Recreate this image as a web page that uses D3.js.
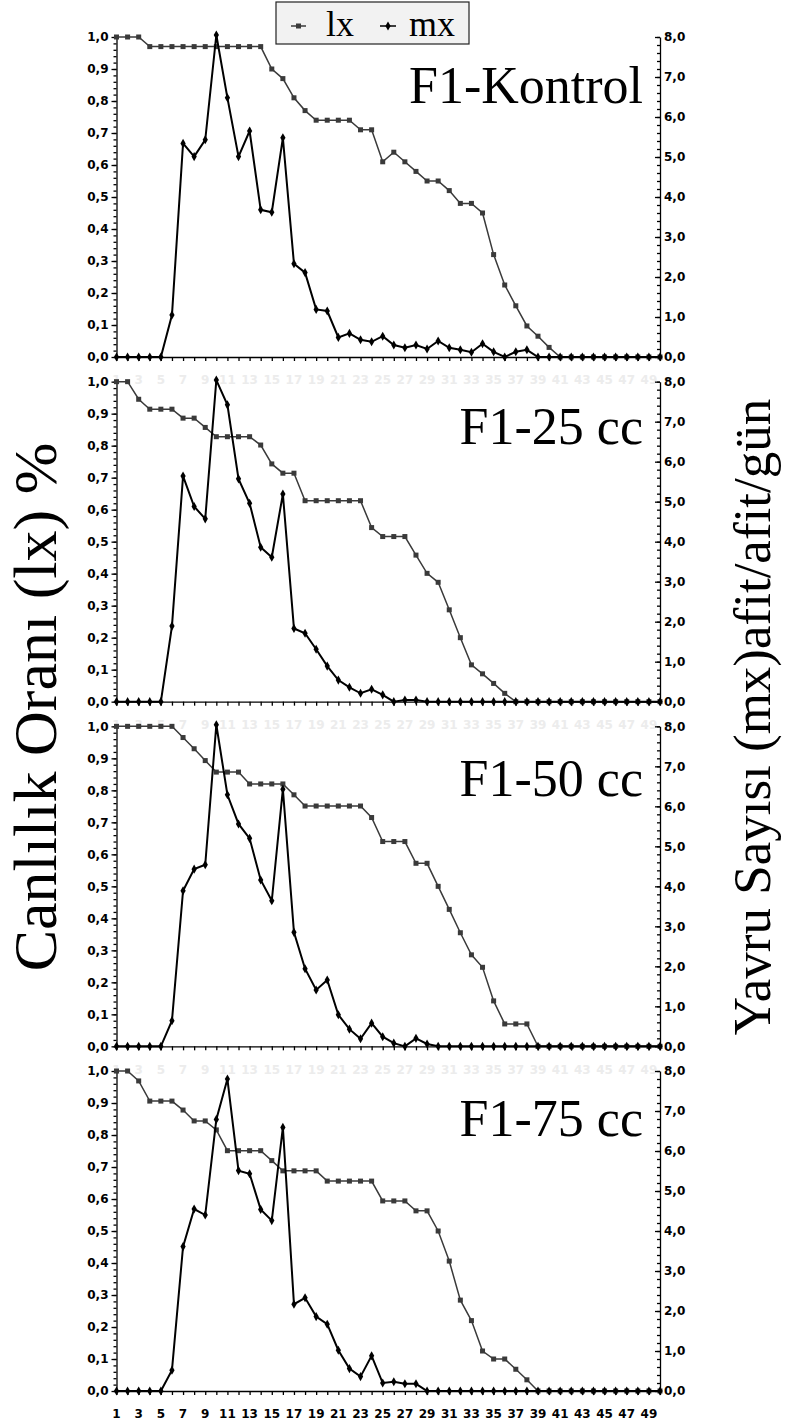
<!DOCTYPE html>
<html>
<head>
<meta charset="utf-8">
<script src="https://cdn.jsdelivr.net/npm/d3@7/dist/d3.min.js"></script>
<style>
  body { margin: 0; background: #fff; }
  svg { display: block; }
  .tick text { font-family: "DejaVu Sans", sans-serif; font-weight: bold; font-size: 12px; fill: #000; }
  .domain, .tick line { stroke: #000; stroke-width: 1.3; }
</style>
</head>
<body>
<svg id="chart"></svg>
<script>
// days on the x axis
const days = [1,2,3,4,5,6,7,8,9,10,11,12,13,14,15,16,17,18,19,20,21,22,23,24,25,
              26,27,28,29,30,31,32,33,34,35,36,37,38,39,40,41,42,43,44,45,46,47,48,49,50];
const xLabels = [1,3,5,7,9,11,13,15,17,19,21,23,25,27,29,31,33,35,37,39,41,43,45,47,49];
const lxTicks = [0,0.1,0.2,0.3,0.4,0.5,0.6,0.7,0.8,0.9,1.0];
const mxTicks = [0,1,2,3,4,5,6,7,8];
const panelNames = ["F1-Kontrol", "F1-25 cc", "F1-50 cc", "F1-75 cc"];

// lx = survival ratio, mx = offspring per female per day
const lxKontrol = [1,1,1,0.97,0.97,0.97,0.97,0.97,0.97,0.97,0.97,0.97,0.97,0.97,0.90,0.87,0.81,0.77,0.74,0.74,
                   0.74,0.74,0.71,0.71,0.61,0.64,0.61,0.58,0.55,0.55,0.52,0.48,0.48,0.45,0.32,0.225,0.16,0.097,0.065,0.03,
                   0,0,0,0,0,0,0,0,0,0];
const mxKontrol = [0,0,0,0,0,1.05,5.34,5.01,5.43,8.05,6.48,5.01,5.65,3.68,3.62,5.48,2.33,2.11,1.19,1.15,
                   0.49,0.59,0.43,0.38,0.52,0.30,0.23,0.30,0.20,0.40,0.23,0.18,0.12,0.33,0.13,0,0.13,0.18,0,0,
                   0,0,0,0,0,0,0,0,0,0];

const lx25 = [1,1,0.945,0.914,0.914,0.914,0.886,0.886,0.857,0.828,0.828,0.828,0.828,0.802,0.743,0.714,0.714,0.628,0.628,0.628,
              0.628,0.628,0.628,0.544,0.516,0.516,0.516,0.458,0.401,0.373,0.287,0.2,0.115,0.087,0.057,0.026,0,0,0,0,
              0,0,0,0,0,0,0,0,0,0];
const mx25 = [0,0,0,0,0,1.89,5.64,4.88,4.57,8.04,7.42,5.57,4.96,3.86,3.61,5.19,1.83,1.71,1.31,0.89,
              0.54,0.36,0.21,0.31,0.17,0,0.04,0.04,0,0,0,0,0,0,0,0,0,0,0,0,
              0,0,0,0,0,0,0,0,0,0];

const lx50 = [1,1,1,1,1,1,0.965,0.93,0.893,0.857,0.857,0.857,0.82,0.82,0.82,0.82,0.786,0.751,0.751,0.751,
              0.751,0.751,0.751,0.715,0.64,0.64,0.64,0.572,0.572,0.5,0.428,0.355,0.286,0.247,0.142,0.07,0.07,0.07,0,0,
              0,0,0,0,0,0,0,0,0,0];
const mx50 = [0,0,0,0,0,0.64,3.89,4.43,4.54,8.04,6.29,5.56,5.2,4.16,3.64,6.43,2.85,1.94,1.41,1.66,
              0.79,0.43,0.19,0.58,0.24,0.08,0,0.2,0.06,0,0,0,0,0,0,0,0,0,0,0,
              0,0,0,0,0,0,0,0,0,0];

const lx75 = [1,1,0.969,0.906,0.906,0.906,0.878,0.844,0.844,0.816,0.751,0.751,0.751,0.751,0.72,0.688,0.688,0.688,0.688,0.656,
              0.656,0.656,0.656,0.656,0.594,0.594,0.594,0.563,0.563,0.5,0.406,0.284,0.22,0.125,0.10,0.10,0.068,0.035,0,0,
              0,0,0,0,0,0,0,0,0,0];
const mx75 = [0,0,0,0,0,0.52,3.61,4.55,4.4,6.79,7.8,5.51,5.43,4.54,4.26,6.59,2.17,2.33,1.86,1.67,
              1.02,0.56,0.36,0.88,0.2,0.23,0.18,0.18,0,0,0,0,0,0,0,0,0,0,0,0,
              0,0,0,0,0,0,0,0,0,0];

const lxSeries = [lxKontrol, lx25, lx50, lx75];
const mxSeries = [mxKontrol, mx25, mx50, mx75];

// layout
const W = 785, H = 1426;
const xLeft = 116.5, xRight = 660;
const panelTop0 = 37, panelStep = 344.67, panelH = 320;
const titleOffset = [66, 62, 70, 65];
const lxColor = "#3a3a3a";

const svg = d3.select("#chart").attr("width", W).attr("height", H);
svg.append("rect").attr("width", W).attr("height", H).attr("fill", "#fff");

const x = d3.scaleLinear().domain([1, 50]).range([xLeft, xRight]);
const yL = d3.scaleLinear().domain([0, 1]).range([panelH, 0]);
const yR = d3.scaleLinear().domain([0, 8]).range([panelH, 0]);

const locale = d3.formatLocale({ decimal: ",", thousands: ".", grouping: [3], currency: ["", ""] });
const fmt = locale.format(".1f");

const lxLine = d3.line().x((d, i) => x(days[i])).y(d => yL(d));
const mxLine = d3.line().x((d, i) => x(days[i])).y(d => yR(d));

panelNames.forEach((name, k) => {
  const top = panelTop0 + k * panelStep;
  const g = svg.append("g").attr("transform", `translate(0,${top})`);

  // left axis: minor + major ticks
  g.append("g").attr("transform", `translate(${xLeft},0)`)
    .call(d3.axisLeft(yL).tickValues(d3.range(0, 1.001, 0.02)).tickSize(3).tickSizeOuter(0).tickFormat(""));
  g.append("g").attr("transform", `translate(${xLeft},0)`)
    .call(d3.axisLeft(yL).tickValues(lxTicks).tickSize(5).tickSizeOuter(0).tickPadding(3).tickFormat(fmt))
    .select(".domain").remove();

  // right axis: ticks point inward
  g.append("g").attr("transform", `translate(${xRight},0)`)
    .call(d3.axisRight(yR).tickValues(d3.range(0, 8.001, 0.2)).tickSize(-3).tickSizeOuter(0).tickFormat(""));
  g.append("g").attr("transform", `translate(${xRight},0)`)
    .call(d3.axisRight(yR).tickValues(mxTicks).tickSize(-5).tickSizeOuter(0).tickPadding(4).tickFormat(fmt))
    .select(".domain").remove();

  // bottom axis
  g.append("g").attr("transform", `translate(0,${panelH})`)
    .call(d3.axisBottom(x).tickValues(days).tickSize(4).tickSizeOuter(0).tickFormat(""));

  g.append("g").selectAll("text")
    .data(xLabels)
    .enter().append("text")
      .attr("x", d => x(d))
      .attr("y", panelH + 23)
      .attr("dy", "0.35em")
      .attr("text-anchor", "middle")
      .attr("font-family", "DejaVu Sans, sans-serif")
      .attr("font-weight", "bold")
      .attr("font-size", 12)
      .attr("fill", k < 3 ? "#ececec" : "#000")
      .text(d => d);

  // lx series
  g.append("path")
    .datum(lxSeries[k])
    .attr("fill", "none")
    .attr("stroke", lxColor)
    .attr("stroke-width", 1.5)
    .attr("d", lxLine);
  g.append("g").selectAll("rect")
    .data(lxSeries[k])
    .enter().append("rect")
      .attr("x", (d, i) => x(days[i]) - 2.5)
      .attr("y", d => yL(d) - 2.5)
      .attr("width", 5)
      .attr("height", 5)
      .attr("fill", lxColor);

  // mx series
  g.append("path")
    .datum(mxSeries[k])
    .attr("fill", "none")
    .attr("stroke", "#000")
    .attr("stroke-width", 2)
    .attr("d", mxLine);
  g.append("g").selectAll("path")
    .data(mxSeries[k])
    .enter().append("path")
      .attr("transform", (d, i) => `translate(${x(days[i])},${yR(d)})`)
      .attr("d", d3.symbol(d3.symbolDiamond).size(24))
      .attr("fill", "#000");

  // panel title
  g.append("text")
    .attr("x", 643)
    .attr("y", titleOffset[k])
    .attr("text-anchor", "end")
    .attr("font-family", "Liberation Serif, Times New Roman, serif")
    .attr("font-size", 52)
    .text(name);
});

// legend
const leg = svg.append("g");
leg.append("rect")
  .attr("x", 276).attr("y", 2).attr("width", 193).attr("height", 42)
  .attr("fill", "#f2f2f2").attr("stroke", "#222").attr("stroke-width", 1.2);
leg.append("line").attr("x1", 291).attr("x2", 306).attr("y1", 26).attr("y2", 26)
  .attr("stroke", lxColor).attr("stroke-width", 1.5);
leg.append("rect").attr("x", 296).attr("y", 23.5).attr("width", 5).attr("height", 5).attr("fill", lxColor);
leg.append("text").attr("x", 326).attr("y", 36)
  .attr("font-family", "Liberation Serif, serif").attr("font-size", 36).text("lx");
leg.append("line").attr("x1", 380).attr("x2", 396).attr("y1", 26).attr("y2", 26)
  .attr("stroke", "#000").attr("stroke-width", 1.5);
leg.append("path").attr("transform", "translate(388,26)")
  .attr("d", d3.symbol(d3.symbolDiamond).size(24)).attr("fill", "#000");
leg.append("text").attr("x", 409).attr("y", 36)
  .attr("font-family", "Liberation Serif, serif").attr("font-size", 36).text("mx");

// axis titles
svg.append("text")
  .attr("transform", "translate(56,707) rotate(-90)")
  .attr("text-anchor", "middle")
  .attr("font-family", "Liberation Serif, Times New Roman, serif")
  .attr("font-size", 62)
  .text("Canlılık Oranı (lx) %");

svg.append("text")
  .attr("transform", "translate(770,717) rotate(-90)")
  .attr("text-anchor", "middle")
  .attr("font-family", "Liberation Serif, Times New Roman, serif")
  .attr("font-size", 53)
  .text("Yavru Sayısı (mx)afit/afit/gün");
</script>
</body>
</html>
